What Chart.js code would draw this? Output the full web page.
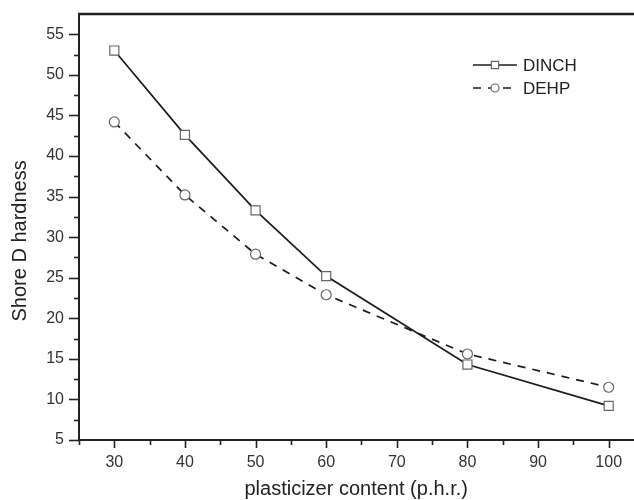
<!DOCTYPE html>
<html>
<head>
<meta charset="utf-8">
<script src="https://cdn.jsdelivr.net/npm/chart.js@4/dist/chart.umd.min.js"></script>
<style>
html,body{margin:0;padding:0;background:#fff;overflow:hidden;width:634px;height:500px;}
canvas{display:block;}
</style>
</head>
<body>
<canvas id="c" width="641" height="500"></canvas>
<script>
const plasticizerContent = [30, 40, 50, 60, 80, 100];
const dinchHardness = [53.0, 42.6, 33.3, 25.2, 14.3, 9.2];
const dehpHardness = [44.2, 35.2, 27.9, 22.9, 15.6, 11.5];
const seriesNames = ['DINCH', 'DEHP'];
const xTickValues = [25, 30, 35, 40, 45, 50, 55, 60, 65, 70, 75, 80, 85, 90, 95, 100];
const yTickValues = [5, 7.5, 10, 12.5, 15, 17.5, 20, 22.5, 25, 27.5, 30, 32.5, 35, 37.5, 40, 42.5, 45, 47.5, 50, 52.5, 55];
const xTitle = 'plasticizer content (p.h.r.)';
const yTitle = 'Shore D hardness';

const FONT = "'Liberation Sans', Arial, sans-serif";
const INK = '#222';

function toPoints(xs, ys) { return xs.map((x, i) => ({x: x, y: ys[i]})); }

const axisDecor = {
  id: 'axisDecor',
  afterDraw(chart) {
    const ctx = chart.ctx;
    const a = chart.chartArea;
    const xs = chart.scales.x, ys = chart.scales.y;
    ctx.save();
    ctx.strokeStyle = INK;
    ctx.lineWidth = 2.5;
    ctx.beginPath();
    ctx.moveTo(a.left - 1, a.top);
    ctx.lineTo(a.right + 8, a.top);
    ctx.stroke();
    ctx.lineWidth = 1.6;
    xs.ticks.forEach(t => {
      const v = t.value;
      const major = Math.abs(v / 10 - Math.round(v / 10)) < 1e-6;
      const px = Math.round(xs.getPixelForValue(v)) + 0.5;
      ctx.beginPath();
      ctx.moveTo(px, a.bottom);
      ctx.lineTo(px, a.bottom + (major ? 8 : 5));
      ctx.stroke();
    });
    ys.ticks.forEach(t => {
      const v = t.value;
      const major = Math.abs(v / 5 - Math.round(v / 5)) < 1e-6;
      const py = Math.round(ys.getPixelForValue(v)) + 0.5;
      ctx.beginPath();
      ctx.moveTo(a.left, py);
      ctx.lineTo(a.left - (major ? 10 : 5), py);
      ctx.stroke();
    });
    const lx0 = 473, lx1 = 517, tx = 523;
    const rows = [65, 88];
    chart.data.datasets.forEach((ds, i) => {
      const y = rows[i];
      ctx.save();
      ctx.strokeStyle = ds.borderColor;
      ctx.lineWidth = ds.borderWidth;
      ctx.setLineDash(ds.borderDash || []);
      ctx.beginPath();
      ctx.moveTo(lx0, y);
      ctx.lineTo(lx1, y);
      ctx.stroke();
      ctx.restore();
      ctx.save();
      ctx.fillStyle = ds.pointBackgroundColor;
      ctx.strokeStyle = ds.pointBorderColor;
      ctx.lineWidth = ds.pointBorderWidth;
      Chart.helpers.drawPoint(ctx, {pointStyle: ds.pointStyle, radius: ds.pointRadius * 0.8, rotation: 0, borderWidth: ds.pointBorderWidth}, (lx0 + lx1) / 2, y);
      ctx.restore();
      ctx.fillStyle = INK;
      ctx.font = '17px ' + FONT;
      ctx.textAlign = 'left';
      ctx.textBaseline = 'middle';
      ctx.fillText(ds.label, tx, y + 1);
    });
    ctx.restore();
  }
};

new Chart(document.getElementById('c'), {
  type: 'line',
  data: {
    datasets: [
      {
        label: seriesNames[0],
        data: toPoints(plasticizerContent, dinchHardness),
        borderColor: '#1c1c1c',
        borderWidth: 1.7,
        pointStyle: 'rect',
        pointRadius: 6.4,
        pointBackgroundColor: '#fff',
        pointBorderColor: '#666',
        pointBorderWidth: 1.2,
        tension: 0,
        fill: false
      },
      {
        label: seriesNames[1],
        data: toPoints(plasticizerContent, dehpHardness),
        borderColor: '#1c1c1c',
        borderWidth: 1.7,
        borderDash: [8, 7],
        pointStyle: 'circle',
        pointRadius: 5,
        pointBackgroundColor: '#fff',
        pointBorderColor: '#666',
        pointBorderWidth: 1.2,
        tension: 0,
        fill: false
      }
    ]
  },
  options: {
    responsive: false,
    animation: false,
    events: [],
    layout: {padding: {top: 14, right: 0, left: 0, bottom: 0}},
    plugins: {legend: {display: false}, tooltip: {enabled: false}},
    scales: {
      x: {
        type: 'linear',
        min: 25,
        max: 103.5,
        afterFit(s) { s.height = 60; s.paddingRight = 0; s.paddingLeft = 0; },
        afterBuildTicks(s) { s.ticks = xTickValues.map(v => ({value: v})); },
        grid: {display: false, drawTicks: false},
        border: {display: true, color: INK, width: 2},
        ticks: {
          autoSkip: false,
          maxRotation: 0,
          padding: 13,
          color: '#333',
          font: {family: FONT, size: 16},
          callback: v => (Math.abs(v % 10) < 1e-6 ? String(v) : '')
        },
        title: {
          display: true,
          text: xTitle,
          color: INK,
          font: {family: FONT, size: 20, lineHeight: 1},
          padding: {top: 0, bottom: 1}
        }
      },
      y: {
        type: 'linear',
        min: 5,
        max: 57.5,
        afterFit(s) { s.width = 79; s.paddingTop = 0; s.paddingBottom = 0; },
        afterBuildTicks(s) { s.ticks = yTickValues.map(v => ({value: v})); },
        grid: {display: false, drawTicks: false},
        border: {display: true, color: INK, width: 2},
        ticks: {
          autoSkip: false,
          padding: 15,
          color: '#333',
          font: {family: FONT, size: 16},
          callback: v => (Math.abs(v % 5) < 1e-6 ? String(v) : '')
        },
        title: {
          display: true,
          text: yTitle + '     ',
          color: INK,
          font: {family: FONT, size: 20, lineHeight: 1.2},
          padding: {top: 8, bottom: 0}
        }
      }
    }
  },
  plugins: [axisDecor]
});
</script>
</body>
</html>
